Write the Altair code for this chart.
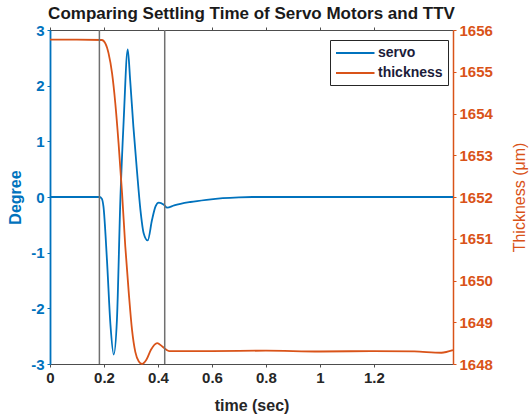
import altair as alt
import pandas as pd

# ---- data ----
servo_t = [0.0, 0.10, 0.183, 0.192, 0.198, 0.211, 0.224, 0.236, 0.248, 0.261, 0.273,
           0.288, 0.297, 0.309, 0.322, 0.335, 0.347, 0.362, 0.378, 0.391, 0.403,
           0.422, 0.434, 0.46, 0.52, 0.58, 0.64, 0.70, 0.75, 0.9, 1.1, 1.3, 1.493]
servo_v = [0.0, 0.0, 0.0, -0.03, -0.17, -1.13, -2.3, -2.83, -2.2, 0.0, 1.38,
           2.65, 2.1, 1.26, 0.48, -0.23, -0.65, -0.78, -0.41, -0.17, -0.10,
           -0.14, -0.19, -0.15, -0.09, -0.05, -0.02, -0.005, 0.0, 0.0, 0.0, 0.0, 0.0]

thick_t = [0.0, 0.10, 0.192, 0.205, 0.217, 0.230, 0.242, 0.254, 0.267, 0.279, 0.292,
           0.304, 0.316, 0.329, 0.341, 0.357, 0.374, 0.397, 0.416, 0.441, 0.5,
           0.6, 0.8, 1.0, 1.2, 1.35, 1.45, 1.493]
thick_v = [1655.77, 1655.77, 1655.76, 1655.68, 1655.44, 1654.96, 1654.24, 1653.29,
           1652.09, 1650.81, 1649.69, 1648.81, 1648.29, 1648.06, 1648.0, 1648.10,
           1648.34, 1648.50, 1648.42, 1648.31, 1648.31, 1648.31, 1648.32, 1648.30,
           1648.31, 1648.30, 1648.27, 1648.33]

marker_t = [0.183, 0.425]

x_ticks = [0, 0.2, 0.4, 0.6, 0.8, 1.0, 1.2]
deg_ticks = [-3, -2, -1, 0, 1, 2, 3]
thick_ticks = [1648, 1649, 1650, 1651, 1652, 1653, 1654, 1655, 1656]
series_names = ["servo", "thickness"]

BLUE = "#0072BD"
ORANGE = "#D95319"
DARK = "#262626"
FONT = "Liberation Sans"

servo_df = pd.DataFrame({"t": servo_t, "v": servo_v, "series": series_names[0]})
thick_df = pd.DataFrame({"t": thick_t, "v": thick_v, "series": series_names[1]})
rule_df = pd.DataFrame({"t": marker_t})

xscale = alt.Scale(domain=[0, 1.493], nice=False, zero=False)

color = alt.Color(
    "series:N",
    scale=alt.Scale(domain=series_names, range=[BLUE, ORANGE]),
    legend=alt.Legend(
        title=None, orient="none", legendX=280, legendY=10,
        symbolType="M-1,0L4.5,0", symbolSize=196, symbolStrokeWidth=1.8,
        labelFont=FONT, labelFontSize=14, labelFontWeight="bold",
        labelColor="#1c1c3a", labelOffset=27,
        strokeColor="#262626", fillColor="white", padding=5, rowPadding=5,
    ),
)

servo = alt.Chart(servo_df).mark_line(strokeWidth=1.8, interpolate="monotone").encode(
    x=alt.X("t:Q", scale=xscale, axis=alt.Axis(
        orient="bottom", values=x_ticks, format="~g", title="time (sec)",
        domainColor="#4d4d4d", domainWidth=1.2, tickColor="#4d4d4d", tickSize=3,
        labelColor=DARK, labelFont=FONT, labelFontSize=15, labelFontWeight="bold",
        labelPadding=3, labelFlush=False, grid=False,
        titleFont=FONT, titleFontSize=16, titleFontWeight="bold", titleColor=DARK,
        titleY=41, titleBaseline="middle")),
    y=alt.Y("v:Q", scale=alt.Scale(domain=[-3, 3], nice=False, zero=False), axis=alt.Axis(
        orient="left", values=deg_ticks, title="Degree",
        labelExpr="datum.value < 0 ? '-' + abs(datum.value) : '' + datum.value",
        domainColor=BLUE, domainWidth=1.8, tickColor=BLUE, tickSize=3,
        labelColor=BLUE, labelFont=FONT, labelFontSize=15, labelFontWeight="bold",
        labelPadding=3, labelFlush=False, grid=False,
        titleFont=FONT, titleFontSize=16, titleFontWeight="bold", titleColor=BLUE,
        titleX=-35, titleY=167, titleAngle=270, titleAlign="center",
        titleBaseline="middle")),
    color=color,
)

thick = alt.Chart(thick_df).mark_line(strokeWidth=1.8, interpolate="monotone").encode(
    x=alt.X("t:Q", scale=xscale, axis=alt.Axis(
        orient="top", values=x_ticks, labels=False, title=None,
        domainColor="#4d4d4d", domainWidth=1.2, tickColor="#4d4d4d", tickSize=3,
        grid=False)),
    y=alt.Y("v:Q", scale=alt.Scale(domain=[1648, 1656], nice=False, zero=False), axis=alt.Axis(
        orient="right", values=thick_ticks, format="d", title="Thickness (μm)",
        domainColor=ORANGE, domainWidth=1.5, tickColor=ORANGE, tickSize=3,
        labelColor=ORANGE, labelFont=FONT, labelFontSize=15, labelFontWeight="bold",
        labelPadding=3, labelFlush=False, grid=False,
        titleFont=FONT, titleFontSize=16, titleFontWeight="normal", titleColor=ORANGE,
        titleX=66, titleY=167, titleAngle=270, titleAlign="center",
        titleBaseline="middle")),
    color=color,
)

rules = alt.Chart(rule_df).mark_rule(color="#707070", strokeWidth=1.5).encode(
    x=alt.X("t:Q", scale=xscale, axis=None)
)

chart = (
    alt.layer(servo, thick, rules)
    .resolve_scale(y="independent")
    .resolve_axis(x="independent")
    .properties(
        width=403, height=334,
        autosize=alt.AutoSizeParams(type="none"),
        padding={"left": 50, "top": 30, "right": 77, "bottom": 51},
        title=alt.TitleParams(
            "Comparing Settling Time of Servo Motors and TTV",
            font=FONT, fontSize=17, fontWeight="bold", color="#1a1a1a",
            anchor="middle", offset=0),
    )
    .configure_view(stroke="#4d4d4d", strokeWidth=1)
    .configure(background="white")
)

chart.save("out.html", embed_options={"renderer": "svg", "actions": False})
